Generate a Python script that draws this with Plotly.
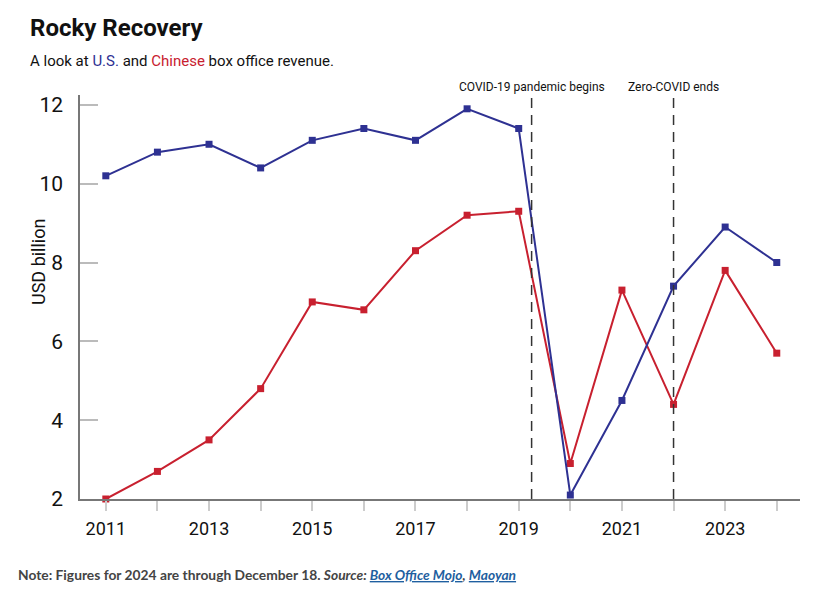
import plotly.graph_objects as go

years = [2011, 2012, 2013, 2014, 2015, 2016, 2017, 2018, 2019, 2020, 2021, 2022, 2023, 2024]
us_revenue = [10.2, 10.8, 11.0, 10.4, 11.1, 11.4, 11.1, 11.9, 11.4, 2.1, 4.5, 7.4, 8.9, 8.0]
china_revenue = [2.0, 2.7, 3.5, 4.8, 7.0, 6.8, 8.3, 9.2, 9.3, 2.9, 7.3, 4.4, 7.8, 5.7]
tick_labels = [str(y) if y % 2 == 1 else "" for y in years]
y_ticks = [2, 4, 6, 8, 10, 12]
event_x = [2019.25, 2022.0]
event_labels = ["COVID-19 pandemic begins", "Zero-COVID ends"]

BLUE = "#2e3192"
RED = "#c8202f"
FONT = "Roboto, sans-serif"

# page has an 8px body margin; figure is sized so it fills the window
PW, PH = 720, 404          # plot area in pixels
L0, B0 = 80, 499           # plot-area left / bottom in window pixels


def px(xw):
    return (xw - L0) / PW


def py(yw):
    return (B0 - yw) / PH


fig = go.Figure()
fig.add_trace(go.Scatter(x=years, y=china_revenue, mode="lines+markers", name="China",
                         line=dict(color=RED, width=2),
                         marker=dict(symbol="square", size=7, color=RED), cliponaxis=False))
fig.add_trace(go.Scatter(x=years, y=us_revenue, mode="lines+markers", name="U.S.",
                         line=dict(color=BLUE, width=2),
                         marker=dict(symbol="square", size=7, color=BLUE), cliponaxis=False))

for ex, lab in zip(event_x, event_labels):
    fig.add_shape(type="line", x0=ex, x1=ex, y0=0, y1=1, xref="x", yref="paper",
                  line=dict(color="#333", width=1.5, dash="10px,7px"))
    fig.add_annotation(x=ex, y=1, xref="x", yref="paper", text=lab, showarrow=False,
                       yanchor="bottom", yshift=-1, font=dict(family=FONT, size=12, color="#111"))

# title + subtitle
fig.add_annotation(x=px(28), y=py(28), xref="paper", yref="paper", xanchor="left", yanchor="middle",
                   showarrow=False, text="<b>Rocky Recovery</b>",
                   font=dict(family=FONT, size=24, color="#111"))
fig.add_annotation(x=px(28), y=py(61), xref="paper", yref="paper", xanchor="left", yanchor="middle",
                   showarrow=False,
                   text=f"A look at <span style='color:{BLUE}'>U.S.</span> and "
                        f"<span style='color:{RED}'>Chinese</span> box office revenue.",
                   font=dict(family=FONT, size=15, color="#111"))
# y-axis title
fig.add_annotation(x=px(38), y=py(262), xref="paper", yref="paper", xanchor="center", yanchor="middle",
                   showarrow=False, textangle=-90, text="USD billion",
                   font=dict(family=FONT, size=18, color="#111"))
# footnote
fig.add_annotation(
    x=px(16), y=py(574), xref="paper", yref="paper", xanchor="left", yanchor="middle",
    showarrow=False, align="left",
    text="<b>Note: Figures for 2024 are through December 18. <i>Source: "
         "<a href='https://www.boxofficemojo.com' style='color:#1f5fa0'><u>Box Office Mojo</u></a>, "
         "<a href='https://www.maoyan.com' style='color:#1f5fa0'><u>Maoyan</u></a></i></b>",
    font=dict(family="Lato, sans-serif", size=13.8, color="#444"),
)

fig.update_layout(
    width=810, height=588,
    margin=dict(l=72, r=18, t=87, b=97, autoexpand=False),
    paper_bgcolor="white", plot_bgcolor="white",
    showlegend=False,
    font=dict(family=FONT, color="#111"),
    xaxis=dict(range=[2010.5, 2024.45], tickvals=years, ticktext=tick_labels,
               ticks="outside", ticklen=10, tickcolor="#ccc", tickwidth=1.5,
               showline=True, linecolor="#777", linewidth=1.5, showgrid=False, zeroline=False,
               automargin=False, ticklabelstandoff=3,
               tickfont=dict(family=FONT, size=18, color="#111")),
    yaxis=dict(range=[2, 12.25], tickvals=y_ticks,
               ticks="inside", ticklen=18, tickcolor="#bbb", tickwidth=1.5,
               showline=True, linecolor="#777", linewidth=1.5, showgrid=False, zeroline=False,
               automargin=False, ticklabelstandoff=11,
               tickfont=dict(family=FONT, size=21, color="#111")),
)

fig.write_html("out.html")
